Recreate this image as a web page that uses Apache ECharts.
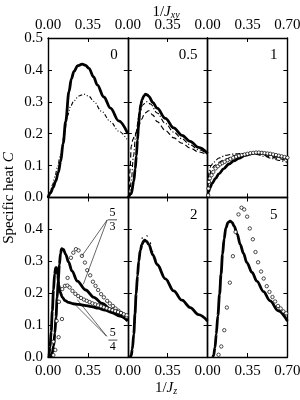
<!DOCTYPE html>
<html><head><meta charset="utf-8">
<script src="https://cdn.jsdelivr.net/npm/echarts@6/dist/echarts.min.js"></script>
<style>html,body{margin:0;padding:0;background:#fff}#c{width:300px;height:400px}</style>
</head><body><div id="c"></div>
<script>
// ---------- tick labels / panel labels ----------
const xTickValues = [0, 0.35, 0.70];
const yTickValues = [0, 0.1, 0.2, 0.3, 0.4, 0.5];
const panelNames = ['0', '0.5', '1', '', '2', '5'];
const xTitleTop = '1/J_xy';
const xTitleBottom = '1/J_z';
const yTitle = 'Specific heat C';

// ---------- panel "0" ----------
const p0SolidX = [0, 0.023, 0.045, 0.067, 0.09, 0.111, 0.133, 0.155, 0.184, 0.205, 0.2275, 0.26, 0.30, 0.33, 0.359, 0.40, 0.432, 0.49, 0.548, 0.62, 0.70];
const p0SolidY = [0, 0.015, 0.032, 0.051, 0.078, 0.113, 0.17, 0.238, 0.332, 0.372, 0.395, 0.413, 0.418, 0.414, 0.405, 0.378, 0.353, 0.315, 0.28, 0.24, 0.20];
const p0DashX = [0, 0.02, 0.04, 0.06, 0.082, 0.11, 0.14, 0.17, 0.2, 0.2275, 0.27, 0.315, 0.36, 0.4025, 0.47, 0.548, 0.62, 0.70];
const p0DashY = [0, 0.018, 0.04, 0.065, 0.093, 0.135, 0.19, 0.255, 0.288, 0.303, 0.318, 0.324, 0.317, 0.301, 0.27, 0.238, 0.208, 0.178];

// ---------- panel "0.5" ----------
const p1SolidX = [0.005, 0.03, 0.0525, 0.065, 0.075, 0.085, 0.095, 0.105, 0.115, 0.125, 0.14, 0.155, 0.17, 0.184, 0.22, 0.257, 0.33, 0.4025, 0.475, 0.548, 0.62, 0.70];
const p1SolidY = [0, 0.012, 0.051, 0.09, 0.13, 0.18, 0.23, 0.27, 0.293, 0.306, 0.318, 0.324, 0.322, 0.317, 0.298, 0.28, 0.248, 0.218, 0.195, 0.176, 0.157, 0.138];
const p1DashX = [0.012, 0.02, 0.03, 0.045, 0.06, 0.09, 0.12, 0.15, 0.184, 0.22, 0.257, 0.33, 0.4025, 0.475, 0.548, 0.62, 0.70];
const p1DashY = [0, 0.09, 0.16, 0.182, 0.195, 0.218, 0.245, 0.265, 0.272, 0.258, 0.238, 0.21, 0.187, 0.17, 0.155, 0.143, 0.133];
const p1DotX = [0.015, 0.03, 0.05, 0.07, 0.1, 0.13, 0.165, 0.2, 0.257, 0.33, 0.4025, 0.475, 0.548, 0.62, 0.70];
const p1DotY = [0, 0.05, 0.13, 0.2, 0.26, 0.29, 0.3, 0.293, 0.265, 0.232, 0.205, 0.184, 0.165, 0.15, 0.136];

// ---------- panel "1" ----------
const p2SolidX = [0, 0.01, 0.02, 0.041, 0.07, 0.099, 0.14, 0.187, 0.23, 0.274, 0.33, 0.391, 0.43, 0.48, 0.548, 0.62, 0.70];
const p2SolidY = [0, 0.018, 0.03, 0.045, 0.06, 0.074, 0.09, 0.105, 0.115, 0.123, 0.132, 0.138, 0.14, 0.139, 0.135, 0.129, 0.122];
const p2CircX = [0.005, 0.008, 0.012, 0.02, 0.035, 0.05, 0.07, 0.09, 0.11, 0.13, 0.15, 0.175, 0.2, 0.225, 0.25, 0.275, 0.3, 0.325, 0.35, 0.375, 0.4, 0.425, 0.45, 0.475, 0.5, 0.525, 0.55, 0.575, 0.6, 0.625, 0.65, 0.675, 0.7];
const p2CircY = [0.007, 0.028, 0.049, 0.06, 0.07, 0.08, 0.091, 0.098, 0.104, 0.108, 0.112, 0.117, 0.121, 0.125, 0.128, 0.131, 0.133, 0.135, 0.137, 0.139, 0.14, 0.141, 0.141, 0.14, 0.139, 0.138, 0.137, 0.135, 0.133, 0.131, 0.129, 0.127, 0.125];
const p2DotX = [0.003, 0.012, 0.03, 0.055, 0.1, 0.1575, 0.22, 0.274, 0.35, 0.43, 0.5, 0.565, 0.63, 0.70];
const p2DotY = [0.03, 0.08, 0.1, 0.111, 0.124, 0.132, 0.136, 0.1375, 0.138, 0.135, 0.129, 0.122, 0.116, 0.11];
const p2DashX = [0.005, 0.015, 0.03, 0.06, 0.1, 0.15, 0.25, 0.35, 0.45, 0.55, 0.62, 0.70];
const p2DashY = [0.02, 0.06, 0.085, 0.1, 0.11, 0.12, 0.132, 0.138, 0.137, 0.128, 0.122, 0.114];

// ---------- panel "5/3, 5/4" ----------
const p3AX = [0.02, 0.035, 0.05, 0.06, 0.07, 0.08, 0.09, 0.1, 0.11, 0.12, 0.135, 0.155, 0.18, 0.21, 0.257, 0.33, 0.4025, 0.475, 0.548, 0.62, 0.70];
const p3AY = [0, 0.01, 0.035, 0.075, 0.125, 0.185, 0.24, 0.29, 0.325, 0.34, 0.337, 0.322, 0.298, 0.27, 0.238, 0.21, 0.187, 0.168, 0.15, 0.132, 0.113];
const p3BX = [0.008, 0.018, 0.028, 0.038, 0.048, 0.058, 0.068, 0.076, 0.085, 0.095, 0.107, 0.125, 0.15, 0.18, 0.22, 0.27, 0.32, 0.38, 0.44, 0.5, 0.56, 0.63, 0.70];
const p3BY = [0, 0.03, 0.08, 0.145, 0.21, 0.26, 0.28, 0.28, 0.258, 0.225, 0.203, 0.188, 0.177, 0.171, 0.167, 0.165, 0.162, 0.158, 0.153, 0.147, 0.139, 0.128, 0.115];
const p3ACircX = [0.047, 0.064, 0.093, 0.1225, 0.172, 0.201, 0.222, 0.245, 0.268, 0.2975, 0.324, 0.344, 0.37, 0.394, 0.417, 0.44, 0.466, 0.49, 0.519, 0.5425, 0.569, 0.592, 0.618, 0.641, 0.665, 0.689];
const p3ACircY = [0.006, 0.022, 0.062, 0.119, 0.248, 0.311, 0.327, 0.338, 0.334, 0.317, 0.296, 0.272, 0.256, 0.236, 0.223, 0.21, 0.197, 0.187, 0.176, 0.168, 0.16, 0.152, 0.145, 0.138, 0.132, 0.126];
const p3BCircX = [0.047, 0.076, 0.096, 0.125, 0.149, 0.17, 0.19, 0.215, 0.24, 0.265, 0.29, 0.315, 0.34, 0.365, 0.39, 0.415, 0.44, 0.465, 0.49, 0.515, 0.54, 0.565, 0.59, 0.615, 0.64, 0.665, 0.69];
const p3BCircY = [0.048, 0.113, 0.173, 0.213, 0.223, 0.224, 0.218, 0.207, 0.198, 0.191, 0.185, 0.18, 0.176, 0.172, 0.168, 0.165, 0.162, 0.159, 0.156, 0.153, 0.15, 0.147, 0.144, 0.141, 0.138, 0.134, 0.131];
// annotations (data coordinates of bottom-left panel)
const frac53 = {num: '5', den: '3', at: [0.566, 0.43]};
const frac54 = {num: '5', den: '4', at: [0.569, 0.053]};
const lead53 = [[[0.52, 0.43], [0.2975, 0.317]], [[0.52, 0.43], [0.31, 0.228]]];
const lead54 = [[[0.515, 0.065], [0.238, 0.164]], [[0.515, 0.065], [0.257, 0.18]]];

// ---------- panel "2" ----------
const p4SolidX = [0.02, 0.03, 0.04, 0.0525, 0.063, 0.073, 0.085, 0.096, 0.11, 0.125, 0.137, 0.149, 0.165, 0.184, 0.22, 0.257, 0.33, 0.4025, 0.475, 0.548, 0.62, 0.70];
const p4SolidY = [0, 0.005, 0.025, 0.072, 0.135, 0.197, 0.255, 0.30, 0.335, 0.353, 0.362, 0.366, 0.362, 0.353, 0.32, 0.29, 0.245, 0.207, 0.178, 0.155, 0.133, 0.113];
const p4DashX = [0.03, 0.055, 0.075, 0.1, 0.12, 0.134, 0.155, 0.184, 0.22, 0.257, 0.33, 0.4025, 0.475, 0.548, 0.62, 0.70];
const p4DashY = [0, 0.07, 0.19, 0.31, 0.365, 0.384, 0.385, 0.374, 0.33, 0.295, 0.248, 0.21, 0.18, 0.157, 0.135, 0.114];

// ---------- panel "5" ----------
const p5SolidX = [0.045, 0.0525, 0.065, 0.076, 0.09, 0.105, 0.118, 0.131, 0.145, 0.16, 0.18, 0.198, 0.215, 0.233, 0.26, 0.286, 0.315, 0.344, 0.39, 0.432, 0.49, 0.548, 0.62, 0.70];
const p5SolidY = [0, 0.005, 0.03, 0.072, 0.13, 0.197, 0.26, 0.322, 0.37, 0.405, 0.422, 0.426, 0.422, 0.41, 0.385, 0.353, 0.325, 0.296, 0.265, 0.238, 0.205, 0.176, 0.145, 0.113];
const p5CircX = [0.096, 0.12, 0.146, 0.169, 0.195, 0.222, 0.245, 0.271, 0.2975, 0.321, 0.347, 0.37, 0.397, 0.42, 0.443, 0.469, 0.492, 0.519, 0.5425, 0.569, 0.592, 0.618, 0.641, 0.665, 0.689];
const p5CircY = [0.007, 0.033, 0.084, 0.155, 0.233, 0.316, 0.392, 0.447, 0.468, 0.4625, 0.44, 0.403, 0.369, 0.329, 0.297, 0.268, 0.246, 0.222, 0.204, 0.188, 0.174, 0.16, 0.152, 0.143, 0.137];

// ---------- build ----------
const FONT = 'Liberation Serif';
const colL = [48, 127.8, 207.6], W = 79.8;
const rowT = [38, 197.5], H = 159.5;
const zip = (xs, ys) => xs.map((x, k) => [x, ys[k]]);

const STY = {
  thick: {width: 2.8, type: 'solid'},
  dashdotdot: {width: 1.1, type: [4, 2, 1, 2, 1, 2]},
  dashed: {width: 1.2, type: [5, 3]},
  dashdot: {width: 1.1, type: [5, 2, 1.2, 2]},
  sparse: {width: 1.1, type: [1.5, 7]},
  leader: {width: 0.6, type: 'solid'}
};
const curves = [
  [0, p0DashX, p0DashY, 'dashdotdot'], [0, p0SolidX, p0SolidY, 'thick'],
  [1, p1DashX, p1DashY, 'dashed'], [1, p1DotX, p1DotY, 'dashdot'], [1, p1SolidX, p1SolidY, 'thick'],
  [2, p2DotX, p2DotY, 'dashdot'], [2, p2DashX, p2DashY, 'dashed'], [2, p2SolidX, p2SolidY, 'thick'], [2, p2CircX, p2CircY, 'circ'],
  [3, p3AX, p3AY, 'thick'], [3, p3BX, p3BY, 'thick'], [3, p3ACircX, p3ACircY, 'circ'], [3, p3BCircX, p3BCircY, 'circ'],
  [4, p4DashX, p4DashY, 'sparse'], [4, p4SolidX, p4SolidY, 'thick'],
  [5, p5SolidX, p5SolidY, 'thick'], [5, p5CircX, p5CircY, 'circ']
];

const grid = [], xAxis = [], yAxis = [], series = [];
const axLine = {show: true, onZero: false, lineStyle: {color: '#000', width: 1.4}};
const axTick = {show: true, inside: true, length: 4, lineStyle: {color: '#000', width: 1}};
const lab = {fontFamily: FONT, fontSize: 15, color: '#000'};
for (let i = 0; i < 6; i++) {
  const c = i % 3, r = Math.floor(i / 3);
  grid.push({left: colL[c], top: rowT[r], width: W, height: H, containLabel: false, outerBoundsMode: 'none'});
  ['bottom', 'top'].forEach(pos => {
    const showL = (pos === 'bottom' && r === 1) || (pos === 'top' && r === 0);
    xAxis.push({gridIndex: i, type: 'value', position: pos, min: xTickValues[0], max: xTickValues[2],
      interval: xTickValues[1] - xTickValues[0], axisLine: axLine, axisTick: axTick, splitLine: {show: false},
      axisLabel: Object.assign({show: showL, margin: pos === 'bottom' ? 7 : 5, showMaxLabel: c === 2, showMinLabel: true,
        formatter: v => v.toFixed(2)}, lab)});
  });
  ['left', 'right'].forEach(pos => {
    yAxis.push({gridIndex: i, type: 'value', position: pos, min: yTickValues[0], max: yTickValues[5],
      interval: yTickValues[1] - yTickValues[0], axisLine: axLine, axisTick: axTick, splitLine: {show: false},
      axisLabel: Object.assign({show: pos === 'left' && c === 0, margin: 5, showMaxLabel: r === 0, showMinLabel: true,
        formatter: v => v.toFixed(1)}, lab)});
  });
}
curves.forEach(([p, xs, ys, kind]) => {
  if (kind === 'circ') {
    series.push({type: 'scatter', xAxisIndex: 2 * p, yAxisIndex: 2 * p, data: zip(xs, ys), symbol: 'circle',
      symbolSize: 3.4, itemStyle: {color: '#fff', borderColor: '#000', borderWidth: 0.7, opacity: 1}, z: 5, silent: true, animation: false});
  } else {
    series.push({type: 'line', xAxisIndex: 2 * p, yAxisIndex: 2 * p, data: zip(xs, ys), showSymbol: false, symbol: 'none',
      smooth: 0.35, smoothMonotone: 'x', lineStyle: Object.assign({color: '#000'}, STY[kind]), z: kind === 'thick' ? 4 : 3,
      silent: true, animation: false, clip: false});
  }
});
lead53.concat(lead54).forEach(seg => {
  series.push({type: 'line', xAxisIndex: 6, yAxisIndex: 6, data: seg, symbol: 'none', showSymbol: false,
    lineStyle: Object.assign({color: '#000'}, STY.leader), z: 6, silent: true, animation: false});
});

const graphic = [];
const rich = {
  i: {fontFamily: FONT, fontSize: 15, fontStyle: 'italic'},
  s: {fontFamily: FONT, fontSize: 10, fontStyle: 'italic', verticalAlign: 'bottom', padding: [7, 0, 0, 0]}
};
graphic.push({type: 'text', x: 166, y: 12, style: {text: '1/{i|J}{s|xy}', rich: rich, fontFamily: FONT, fontSize: 15,
  fill: '#000', align: 'center', verticalAlign: 'middle'}});
graphic.push({type: 'text', x: 166, y: 388, style: {text: '1/{i|J}{s|z}', rich: rich, fontFamily: FONT, fontSize: 15,
  fill: '#000', align: 'center', verticalAlign: 'middle'}});
graphic.push({type: 'text', x: 9, y: 198, rotation: Math.PI / 2, style: {text: 'Specific heat {i|C}', rich: rich,
  fontFamily: FONT, fontSize: 15, fill: '#000', align: 'center', verticalAlign: 'middle'}});
panelNames.forEach((t, i) => {
  if (!t) return;
  const c = i % 3, r = Math.floor(i / 3);
  graphic.push({type: 'text', x: colL[c] + W - 10, y: rowT[r] + 10, style: {text: t, fontFamily: FONT, fontSize: 15,
    fill: '#000', align: 'right', verticalAlign: 'top'}, z: 10});
});

const chart = echarts.init(document.getElementById('c'), null, {renderer: 'canvas'});
chart.setOption({animation: false, backgroundColor: '#fff', grid, xAxis, yAxis, series});
[frac53, frac54].forEach(f => {
  const pt = chart.convertToPixel({gridIndex: 3}, f.at);
  graphic.push({type: 'text', x: pt[0], y: pt[1] - 1, style: {text: f.num, fontFamily: FONT, fontSize: 12, fill: '#000',
    align: 'center', verticalAlign: 'bottom'}});
  graphic.push({type: 'text', x: pt[0], y: pt[1] + 1, style: {text: f.den, fontFamily: FONT, fontSize: 12, fill: '#000',
    align: 'center', verticalAlign: 'top'}});
  graphic.push({type: 'line', shape: {x1: pt[0] - 4.5, y1: pt[1], x2: pt[0] + 4.5, y2: pt[1]}, style: {stroke: '#000', lineWidth: 0.7}});
});
chart.setOption({graphic});
</script></body></html>
